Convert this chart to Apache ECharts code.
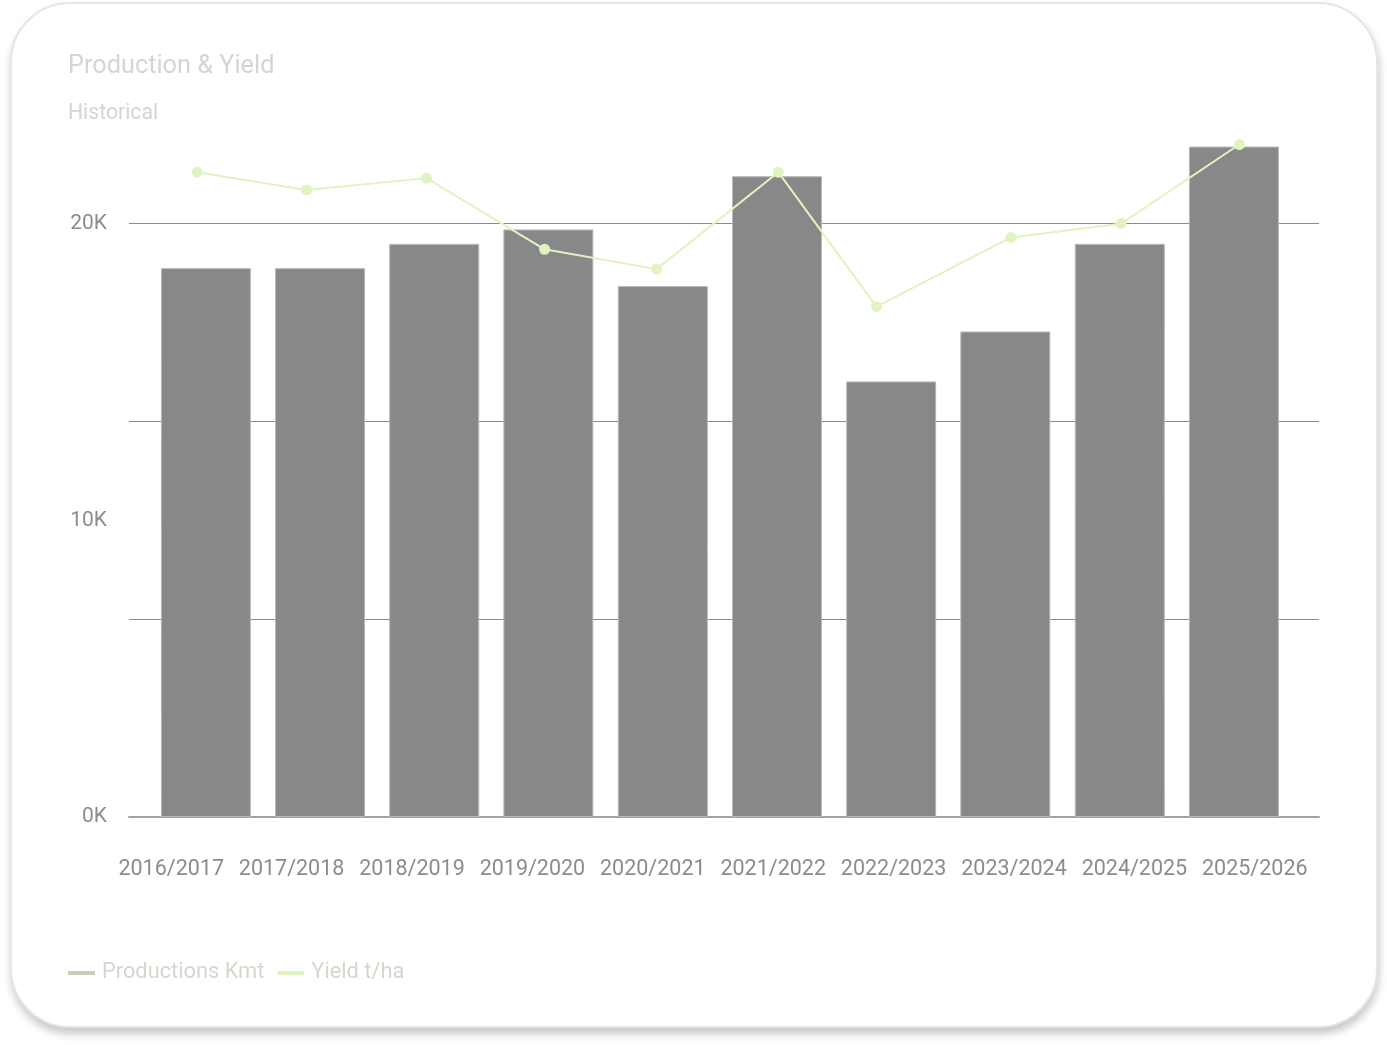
<!DOCTYPE html>
<html>
<head>
<meta charset="utf-8">
<script src="https://cdn.jsdelivr.net/npm/echarts@6/dist/echarts.min.js"></script>
<style>
  html, body { margin: 0; padding: 0; background: #fff; }
  .card {
    position: absolute; left: 10px; top: 2px; width: 1364px; height: 1022px;
    border: 2px solid #e6e6e6; border-radius: 60px; background: #fff;
    box-shadow: 1px 6px 8px rgba(0, 0, 0, 0.22);
  }
  #chart { position: absolute; left: 0; top: 0; width: 1387px; height: 1045px; }
</style>
</head>
<body>
<div class="card"></div>
<div id="chart"></div>
<script>
// seasons shown on the category axis
const seasons = ["2016/2017", "2017/2018", "2018/2019", "2019/2020", "2020/2021",
  "2021/2022", "2022/2023", "2023/2024", "2024/2025", "2025/2026"];
// production (Kmt) per season, plotted at 1 Jan of the season's second year
const productionDates = ["2017-01-01", "2018-01-01", "2019-01-01", "2020-01-01", "2021-01-01",
  "2022-01-01", "2023-01-01", "2024-01-01", "2025-01-01", "2026-01-01"];
const productionKmt = [18510, 18510, 19330, 19815, 17905, 21610, 14690, 16375, 19330, 22610];
// yield (t/ha) with its own observation dates
const yieldDates = ["2016-12-04", "2017-11-19", "2018-12-07", "2019-12-20", "2020-12-12",
  "2022-01-05", "2022-11-15", "2024-01-19", "2025-01-05", "2026-01-18"];
const yieldTha = [3.26, 3.17, 3.23, 2.87, 2.77, 3.26, 2.58, 2.93, 3.00, 3.40];

const textColor = "#d5d6cd";
const axisText = "#8c8c8c";

const myChart = echarts.init(document.getElementById("chart"));
const option = {
  textStyle: { fontFamily: "Roboto" },
  title: {
    text: "Production & Yield",
    subtext: "Historical",
    left: 63,
    top: 49,
    itemGap: 24,
    textStyle: { color: textColor, fontSize: 25.3, fontWeight: "normal", fontFamily: "Roboto" },
    subtextStyle: { color: textColor, fontSize: 21.2, fontFamily: "Roboto" },
  },
  legend: {
    left: 63,
    top: 957,
    icon: "rect",
    itemWidth: 27,
    itemHeight: 4,
    itemGap: 13,
    textStyle: { color: textColor, fontSize: 21.8, padding: [0, 0, 0, 2] },
    data: [
      { name: "Productions Kmt", itemStyle: { color: "#cbccba", borderWidth: 0 } },
      { name: "Yield t/ha", itemStyle: { color: "#e2f3c2", borderWidth: 0 } },
    ],
  },
  grid: [
    { left: 129, right: 68, top: 144.5, bottom: 228 },
    // label-only grid for the season names
    { left: 111, right: 72, top: 144.5, bottom: 228 },
  ],
  xAxis: [
    {
      type: "time",
      gridIndex: 0,
      // echarts widens a bar axis by half a bar on each side
      min: "2016-09-21",
      max: "2026-05-09",
      axisLabel: { show: false },
      axisTick: { show: false },
      splitLine: { show: false },
      axisLine: { show: true, lineStyle: { color: "#a3a3a3", width: 2 } },
    },
    {
      type: "category",
      gridIndex: 1,
      data: seasons,
      boundaryGap: true,
      axisLine: { show: false },
      axisTick: { show: false },
      axisLabel: { color: axisText, fontSize: 21.5, margin: 42, interval: 0 },
    },
  ],
  yAxis: [
    {
      type: "value",
      gridIndex: 0,
      min: 0,
      max: 22680,
      interval: 10000,
      axisLine: { show: false },
      axisTick: { show: false },
      splitLine: { show: false },
      axisLabel: {
        color: axisText,
        fontSize: 21,
        margin: 22,
        showMaxLabel: false,
        formatter: (v) => v / 1000 + "K",
      },
    },
    {
      type: "value",
      gridIndex: 0,
      position: "right",
      min: 0,
      max: "dataMax",
      interval: 1,
      axisLine: { show: false },
      axisTick: { show: false },
      axisLabel: { show: false },
      splitLine: {
        show: true,
        showMinLine: false,
        showMaxLine: false,
        lineStyle: { color: "#8a8a8a", width: 1 },
      },
    },
    { type: "value", gridIndex: 1, show: false },
  ],
  series: [
    {
      name: "Productions Kmt",
      type: "bar",
      xAxisIndex: 0,
      yAxisIndex: 0,
      barWidth: 90,
      itemStyle: { color: "#888888", borderColor: "#b8b8b8", borderWidth: 1 },
      data: productionDates.map((d, i) => [d, productionKmt[i]]),
    },
    {
      name: "Yield t/ha",
      type: "line",
      xAxisIndex: 0,
      yAxisIndex: 1,
      symbol: "circle",
      symbolSize: 11,
      itemStyle: { color: "#e2f3c2" },
      lineStyle: { color: "#e2f3c2", width: 2 },
      z: 5,
      data: yieldDates.map((d, i) => [d, yieldTha[i]]),
    },
  ],
};
myChart.setOption(option);
</script>
</body>
</html>
